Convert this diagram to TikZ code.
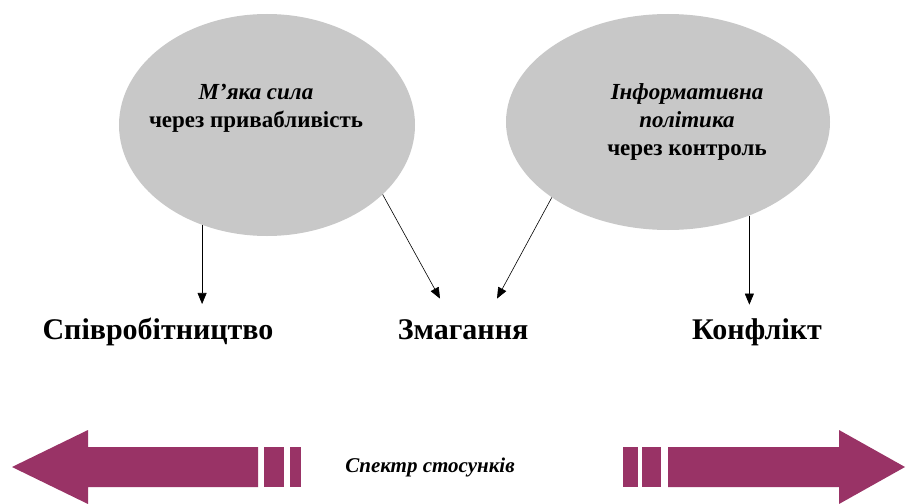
\documentclass[tikz,border=0pt]{standalone}
\usepackage{fontspec}
\setmainfont{Liberation Serif}
\usepackage{tikz}
\usetikzlibrary{shapes.geometric, arrows.meta, positioning}
\definecolor{ovalgray}{RGB}{200,200,200}
\definecolor{spectrum}{RGB}{153,51,102}
\tikzset{
  oval/.style = {ellipse, fill=ovalgray, minimum width=296pt, minimum height=222pt},
  ovaltext/.style = {align=center, font=\bfseries\fontsize{23}{28}\selectfont},
  relation/.style = {anchor=base, font=\bfseries\fontsize{30}{34}\selectfont},
  bigarrow/.style = {fill=spectrum, draw=none}
}

\begin{document}
\begin{tikzpicture} [x = 1pt, y = -1pt, node distance = 1cm]
\useasboundingbox (0,0) rectangle (909,503);
\node (soft) [oval] at (267,125) {};
\node (info) [oval, minimum width=324pt, minimum height=216pt] at (668,122) {};
\node (softtext) [ovaltext] at ([xshift=-11pt, yshift=17pt]soft.center) {\itshape М'яка сила\\через привабливість};
\node (infotext) [ovaltext] at ([xshift=19pt]info.center) {\itshape Інформативна\\\itshape політика\\через контроль};
\node (coop) [relation] at (158,339) {Співробітництво};
\node (comp) [relation] at (463,339) {Змагання};
\node (confl) [relation] at (757,339) {Конфлікт};
\path [-{Triangle[length=11pt, width=9pt]}, semithick]
    (soft.-123) edge [shorten >=10pt] (soft.-123 |- coop.north)
    (soft.-31) edge ([xshift=-23pt, yshift=17pt]comp.north)
    (info.-147) edge ([xshift=34pt, yshift=17pt]comp.north)
    (info.-49) edge [shorten >=10pt] (info.-49 |- confl.north);
% spectrum arrow
\node (spec) [font=\bfseries\itshape\fontsize{21}{25}\selectfont] at (430,467) {Спектр стосунків};
\fill [bigarrow] (12,467) -- (88,430) -- (88,447) -- (258,447) -- (258,487) -- (88,487) -- (88,504) -- cycle;
\fill [bigarrow] (264,447) rectangle (284,487);
\fill [bigarrow] (290,447) rectangle (301,487);
\fill [bigarrow] (623,447) rectangle (638,487);
\fill [bigarrow] (642,447) rectangle (661,487);
\fill [bigarrow] (905,467) -- (839,430) -- (839,447) -- (668,447) -- (668,487) -- (839,487) -- (839,504) -- cycle;
\end{tikzpicture}
\end{document}
